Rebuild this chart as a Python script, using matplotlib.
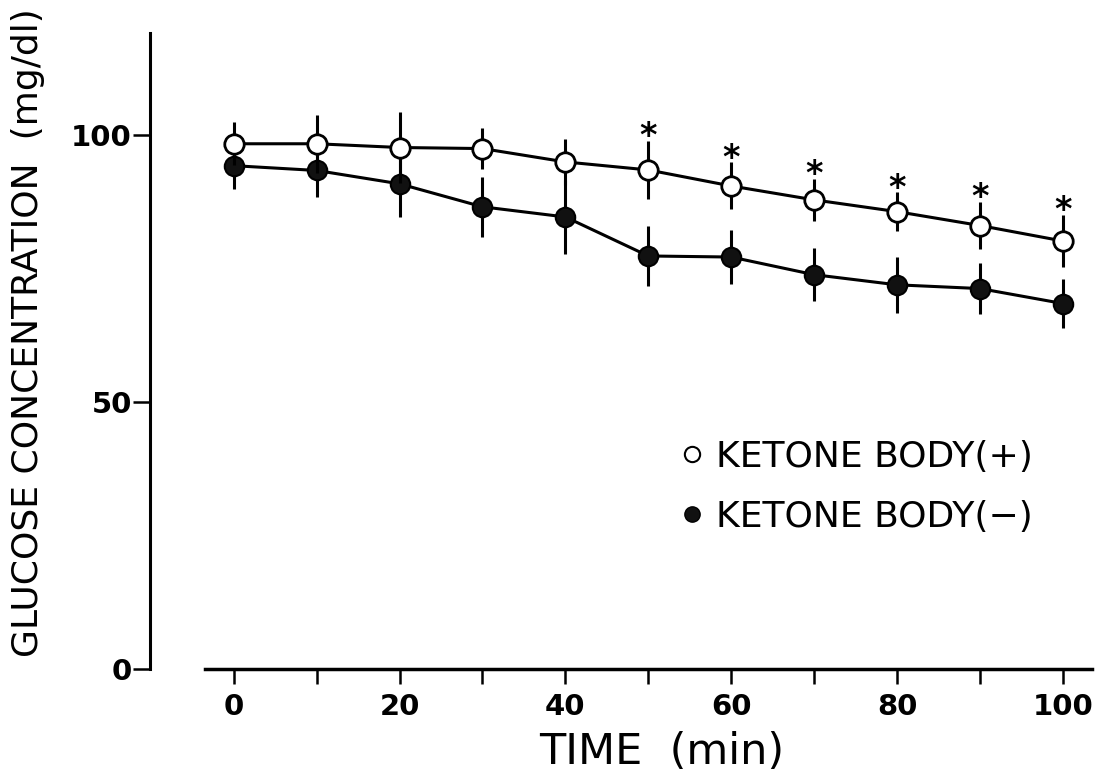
import matplotlib
matplotlib.use("Agg")
import matplotlib.pyplot as plt
from matplotlib.lines import Line2D

# Data (mean +/- SD)
time_min = [0, 10, 20, 30, 40, 50, 60, 70, 80, 90, 100]
ketone_pos = [98.3, 98.3, 97.6, 97.4, 94.9, 93.4, 90.4, 87.8, 85.6, 83.0, 80.1]
ketone_pos_sd = [4.0, 5.4, 6.6, 3.8, 4.3, 5.5, 4.4, 3.9, 3.6, 4.4, 4.9]
ketone_neg = [94.2, 93.3, 90.8, 86.5, 84.6, 77.3, 77.1, 73.8, 71.9, 71.2, 68.4]
ketone_neg_sd = [4.3, 4.9, 6.2, 5.6, 7.0, 5.7, 5.0, 5.0, 5.2, 4.8, 4.5]
significant = [False, False, False, False, False, True, True, True, True, True, True]

y_ticks = [0, 50, 100]
x_ticks = [0, 20, 40, 60, 80, 100]
x_minor = [10, 30, 50, 70, 90]

fig = plt.figure(figsize=(11.08, 7.84), dpi=100)
ax = fig.add_axes([0.1354, 0.1467, 0.850, 0.811])

# Ketone body (-): filled circles
ax.errorbar(time_min, ketone_neg, yerr=ketone_neg_sd, fmt='-o', color='black',
            lw=2.2, elinewidth=2.2, capsize=0, ms=14, mfc='#111111', mec='black',
            mew=1.5, zorder=3)
# Ketone body (+): open circles
ax.errorbar(time_min, ketone_pos, yerr=ketone_pos_sd, fmt='-o', color='black',
            lw=2.2, elinewidth=2.2, capsize=0, ms=14, mfc='white', mec='black',
            mew=2.0, zorder=4)

# Asterisks for significant points
for t, m, s, sig in zip(time_min, ketone_pos, ketone_pos_sd, significant):
    if sig:
        ax.annotate('*', xy=(t, m + s), xytext=(0, 3), textcoords='offset points',
                    ha='center', va='center', fontsize=24, fontweight='bold')

# Axes limits and spines
ax.set_xlim(-10.1, 103.5)
ax.set_ylim(0, 119)
ax.spines['top'].set_visible(False)
ax.spines['right'].set_visible(False)
ax.spines['left'].set_linewidth(2.2)
ax.spines['bottom'].set_linewidth(2.5)
ax.spines['bottom'].set_bounds(-3.5, 103.5)

ax.set_yticks(y_ticks)
ax.set_xticks(x_ticks)
ax.set_xticks(x_minor, minor=True)
ax.tick_params(axis='y', direction='out', length=12, width=1.8, pad=1,
               labelsize=21)
ax.tick_params(axis='x', which='both', direction='out', length=11, width=1.8,
               pad=6, labelsize=21)
for lab in ax.get_xticklabels() + ax.get_yticklabels():
    lab.set_fontweight('bold')

# Axis titles
fig.text(28 / 1108, 1 - 333 / 784, 'GLUCOSE CONCENTRATION  (mg/dl)',
         rotation=90, ha='center', va='center', fontsize=26)
fig.text(662 / 1108, 1 - 752 / 784, 'TIME  (min)', ha='center', va='center',
         fontsize=31)

# Legend
handles = [
    Line2D([], [], ls='none', marker='o', ms=11, mfc='white', mec='black', mew=1.5),
    Line2D([], [], ls='none', marker='o', ms=11, mfc='#111111', mec='black'),
]
ax.legend(handles, ['KETONE BODY(+)', 'KETONE BODY(\u2212)'], loc='center left',
          bbox_to_anchor=(0.615, 0.379), bbox_transform=fig.transFigure,
          frameon=False, fontsize=26, handlelength=0.6, handletextpad=0.35,
          labelspacing=0.72, borderpad=0, borderaxespad=0)

fig.savefig('out.png', dpi=100)
